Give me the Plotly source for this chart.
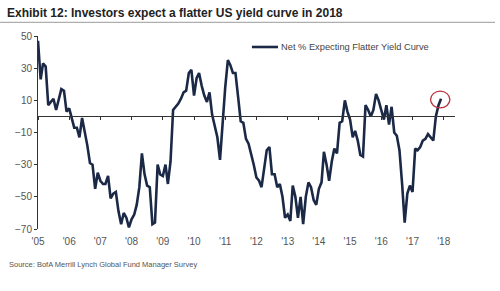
import pandas as pd
import plotly.graph_objects as go

# Monthly survey values, Jan 2005 .. Dec 2017
start_month = "2005-01-01"
values = [
    47, 23, 33, 31, 7, 9, 11, 4, 11, 17, 16, 3,            # 2005
    5, -2, -7, -7, -13, -1, -9, -18, -29, -30, -45, -35,    # 2006
    -40, -42, -42, -37, -51, -48, -47, -59, -67, -60, -63, -69,  # 2007
    -64, -61, -55, -44, -23, -36, -43, -44, -67, -66, -30, -36,  # 2008
    -37, -30, -42, -28, 4, 6, 8, 11, 15, 16, 27, 29,        # 2009
    13, 24, 27, 19, 13, 9, 15, 1, -6, -13, -27, -3,         # 2010
    18, 35, 32, 27, 27, 12, -3, -4, -14, -17, -23, -30,     # 2011
    -38, -40, -44, -32, -21, -19, -36, -36, -44, -42, -50, -63,  # 2012
    -61, -65, -43, -50, -63, -50, -67, -50, -41, -44, -52, -55,  # 2013
    -45, -41, -22, -30, -40, -28, -20, -23, -4, -3, 10, 3,  # 2014
    -2, -13, -9, -15, -24, -25, 7, 4, 0, 4, 14, 10,         # 2015
    3, -2, 7, -5, 6, -10, -12, -21, -42, -66, -48, -43,     # 2016
    -47, -20, -21, -19, -15, -14, -11, -13, -15, 0, 7, 11,  # 2017
]
series_name = "Net % Expecting Flatter Yield Curve"
years = list(range(2005, 2019))
year_labels = ["'%02d" % (y % 100) for y in years]
y_ticks = [50, 30, 10, -10, -30, -50, -70]

dates = pd.date_range(start_month, periods=len(values), freq="MS")
tick_dates = [pd.Timestamp(f"{y}-01-01") for y in years]
x_range = ["2005-01-01", "2018-05-13"]

FONT = "Liberation Sans Narrow, Arial Narrow, Arial, sans-serif"
LINE_COLOR = "#1b2947"

fig = go.Figure()
fig.add_trace(go.Scatter(
    x=dates, y=values, mode="lines", name=series_name,
    line=dict(color=LINE_COLOR, width=2.6), showlegend=False,
))
# helper trace so the zero-crossing axis is drawn
fig.add_trace(go.Scatter(
    x=[dates[0]], y=[0], xaxis="x2", mode="markers",
    marker=dict(opacity=0), showlegend=False, hoverinfo="skip",
))

fig.update_layout(
    width=500, height=291,
    margin=dict(l=38, r=45, t=36, b=62),
    paper_bgcolor="white", plot_bgcolor="white",
    font=dict(family=FONT, size=10, color="#444"),
    title=dict(
        text="<b>Exhibit 12: Investors expect a flatter US yield curve in 2018</b>",
        x=0.014, xanchor="left", xref="container",
        y=1 - 13 / 291, yanchor="middle", yref="container",
        font=dict(family=FONT, size=12, color="#222"),
    ),
    xaxis=dict(
        range=x_range, tickvals=tick_dates, ticktext=year_labels,
        showline=False, showgrid=False, zeroline=False, ticks="",
        ticklabelstandoff=5,
        tickfont=dict(size=10, color="#555"),
    ),
    xaxis2=dict(
        overlaying="x", anchor="free", position=70 / 120, side="bottom",
        range=x_range, tickvals=tick_dates, showticklabels=False,
        showline=True, linecolor="#333", linewidth=1,
        ticks="outside", ticklen=3, tickcolor="#333",
        showgrid=False, zeroline=False,
    ),
    yaxis=dict(
        range=[-70, 50], tickvals=y_ticks,
        showline=True, linecolor="#333", linewidth=1,
        ticks="outside", ticklen=3, tickcolor="#333",
        showgrid=False, zeroline=False,
        tickfont=dict(size=10, color="#555"),
    ),
)

# legend sample and text
fig.add_shape(type="line", xref="paper", yref="paper",
              x0=0.513, x1=0.5755, y0=0.943, y1=0.943,
              line=dict(color=LINE_COLOR, width=2.6))
fig.add_annotation(text=series_name, xref="paper", yref="paper",
                   x=0.578, y=0.943, xanchor="left", yanchor="middle",
                   showarrow=False, font=dict(size=9.3, color="#444"))

# rule under title
fig.add_shape(type="line", xref="paper", yref="paper",
              x0=-0.091, x1=1.096, y0=1.071, y1=1.071,
              line=dict(color="#9a9a9a", width=1))

# red highlight circle around the latest reading
fig.add_shape(type="circle", xref="x", yref="y",
              x0="2017-07-31", x1="2018-03-14", y0=5.3, y1=15.7,
              line=dict(color="#b8323f", width=1.3))

# source
fig.add_annotation(text="Source: BofA Merrill Lynch Global Fund Manager Survey",
                   xref="paper", yref="paper", x=-0.0743, y=-0.1865,
                   xanchor="left", yanchor="middle", showarrow=False,
                   font=dict(size=7.5, color="#555"))

fig.write_html("out.html")
